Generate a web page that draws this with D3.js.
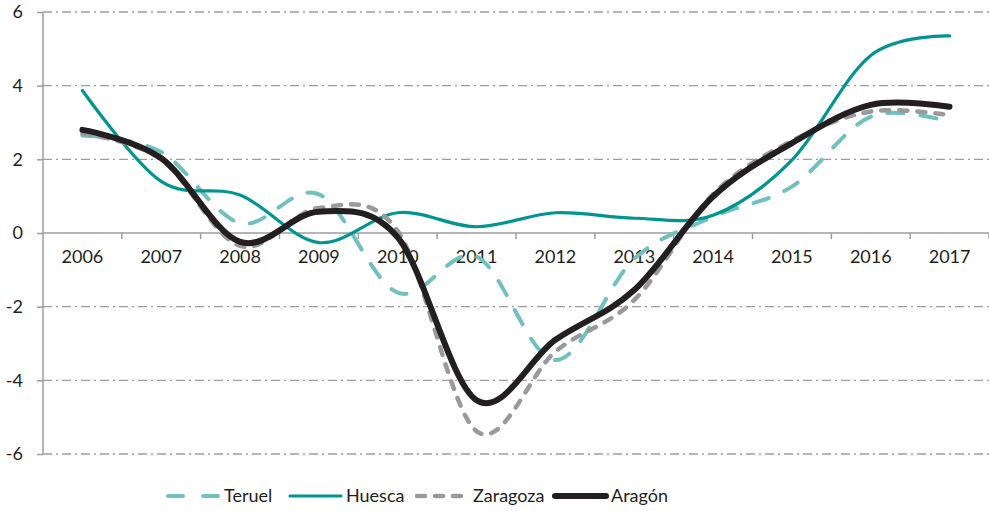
<!DOCTYPE html>
<html>
<head>
<meta charset="utf-8">
<script src="https://cdnjs.cloudflare.com/ajax/libs/d3/7.8.5/d3.min.js"></script>
<style>
  body { margin: 0; background: #fff; }
  text { font-family: Lato, "Open Sans", sans-serif; fill: #231f20; }
</style>
</head>
<body>
<svg id="chart" width="989" height="511"></svg>
<script>
var years = ["2006","2007","2008","2009","2010","2011","2012","2013","2014","2015","2016","2017"];
var yTicks = [-6, -4, -2, 0, 2, 4, 6];

var teruel   = [2.65, 2.2, 0.27, 1.05, -1.62, -0.64, -3.45, -0.7, 0.44, 1.26, 3.16, 3.02];
var huesca   = [3.87, 1.4, 1.03, -0.26, 0.55, 0.17, 0.55, 0.4, 0.48, 1.98, 4.82, 5.35];
var zaragoza = [2.7, 2.0, -0.35, 0.68, 0.05, -5.38, -3.22, -1.82, 1.05, 2.5, 3.3, 3.2];
var aragon   = [2.8, 2.03, -0.24, 0.58, -0.12, -4.54, -2.9, -1.55, 0.99, 2.44, 3.48, 3.43];

var series = [
  {name: "Teruel",   values: teruel,   color: "#6fc0bf", width: 4,   dash: "16,17", legendDash: "15,20"},
  {name: "Huesca",   values: huesca,   color: "#009590", width: 3.2, dash: null,    legendDash: null},
  {name: "Zaragoza", values: zaragoza, color: "#9a9a9c", width: 4.5, dash: "8,10",  legendDash: "8,10"},
  {name: "Aragón",   values: aragon,   color: "#231f20", width: 6,   dash: null,    legendDash: null}
];

var svg = d3.select("#chart");
var m = {left: 43, right: 989, top: 12, bottom: 454};

var x = d3.scaleBand().domain(years).range([m.left, m.right]);
var y = d3.scaleLinear().domain([-6, 6]).range([m.bottom, m.top]);
var cx = function(i) { return x(years[i]) + x.bandwidth() / 2; };

// grid lines (dash-dot)
svg.append("g").selectAll("line")
  .data(yTicks.filter(function(d) { return d !== 0; }))
  .enter().append("line")
    .attr("x1", m.left).attr("x2", m.right)
    .attr("y1", function(d) { return y(d); })
    .attr("y2", function(d) { return y(d); })
    .attr("stroke", "#9d9d9f")
    .attr("stroke-width", 1.3)
    .attr("stroke-dasharray", "9,4,2,4");

// y axis
var yAxis = svg.append("g")
  .attr("transform", "translate(" + m.left + ",0)")
  .call(d3.axisLeft(y).tickValues(yTicks).tickSize(6).tickPadding(14).tickFormat(d3.format("d")));
yAxis.select(".domain").attr("stroke", "#9d9d9f").attr("stroke-width", 1.5).attr("d", "M0," + m.top + "V" + m.bottom);
yAxis.selectAll(".tick line").attr("stroke", "#9d9d9f").attr("stroke-width", 1.5);
yAxis.selectAll(".tick text").attr("font-size", 18).attr("fill", "#231f20")
  .text(function(d) { return d < 0 ? "-" + Math.abs(d) : d; });

// zero line + category ticks
var xAxis = svg.append("g")
  .attr("transform", "translate(0," + y(0) + ")")
  .call(d3.axisBottom(x).tickSize(0).tickPadding(17));
xAxis.select(".domain").attr("stroke", "#9d9d9f").attr("stroke-width", 1.5).attr("d", "M" + m.left + ",0H" + m.right);
xAxis.selectAll(".tick text").attr("font-size", 18).attr("fill", "#231f20");
xAxis.selectAll(".sep")
  .data(years.slice(1).concat(["end"]))
  .enter().append("line")
    .attr("x1", function(d, i) { return m.left + (i + 1) * x.bandwidth(); })
    .attr("x2", function(d, i) { return m.left + (i + 1) * x.bandwidth(); })
    .attr("y1", 0).attr("y2", 6)
    .attr("stroke", "#9d9d9f").attr("stroke-width", 1.5);

// lines
var line = d3.line()
  .x(function(d, i) { return cx(i); })
  .y(function(d) { return y(d); })
  .curve(d3.curveCardinal.tension(0));

series.forEach(function(s) {
  svg.append("path")
    .datum(s.values)
    .attr("fill", "none")
    .attr("stroke", s.color)
    .attr("stroke-width", s.width)
    .attr("stroke-linecap", "round")
    .attr("stroke-linejoin", "round")
    .attr("stroke-dasharray", s.dash)
    .attr("d", line);
});

// legend
var legendX = [166, 288, 415, 553];
var legend = svg.append("g").selectAll("g")
  .data(series).enter().append("g")
  .attr("transform", function(d, i) { return "translate(" + legendX[i] + ",496)"; });
legend.append("line")
  .attr("x1", 2).attr("x2", 53).attr("y1", 0).attr("y2", 0)
  .attr("stroke", function(d) { return d.color; })
  .attr("stroke-width", function(d) { return d.width; })
  .attr("stroke-linecap", "round")
  .attr("stroke-dasharray", function(d) { return d.legendDash; });
legend.append("text")
  .attr("x", 58).attr("y", 6)
  .attr("font-size", 18)
  .text(function(d) { return d.name; });
</script>
</body>
</html>
